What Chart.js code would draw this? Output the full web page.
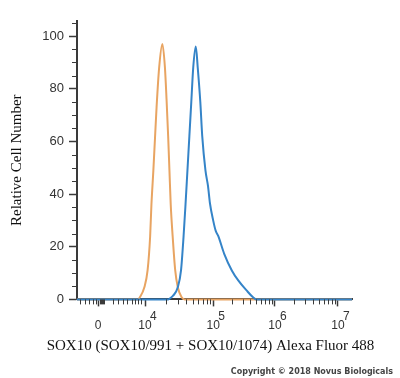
<!DOCTYPE html>
<html>
<head>
<meta charset="utf-8">
<script src="https://cdn.jsdelivr.net/npm/chart.js@4/dist/chart.umd.min.js"></script>
<style>
html, body { margin: 0; padding: 0; background: #fff; }
</style>
</head>
<body>
<canvas id="histo" width="400" height="378"></canvas>
<script>
// x = position on the biexponential axis (in decades), y = relative cell number
var isoX  = [2.94, 3.89, 3.92, 3.99, 4.04, 4.08, 4.10, 4.13, 4.155, 4.18, 4.22, 4.27, 4.31, 4.335, 4.36, 4.38, 4.40, 4.43, 4.47, 4.51, 4.57, 4.62, 7.22];
var isoY  = [0, 0, 0.8, 4.6, 11, 24, 36, 49, 61, 73, 88, 97, 88, 76, 62, 49, 36, 24, 11, 4.6, 0.8, 0, 0];
var soxX  = [2.94, 4.36, 4.40, 4.44, 4.51, 4.56, 4.60, 4.63, 4.66, 4.69, 4.72, 4.75, 4.79, 4.82, 4.86, 4.89, 4.94, 4.98, 5.01, 5.06, 5.10, 5.14, 5.23, 5.35, 5.45, 5.58, 5.68, 5.73, 7.22];
var soxY  = [0, 0, 0.6, 1.5, 4.6, 11, 24, 36, 49, 62, 75, 88, 96, 88, 75, 62, 49, 43, 36.5, 30, 26, 24, 17.4, 11, 7.2, 3.4, 0.8, 0, 0];

// axis ticks
var decadePos = [3.27, 4.0, 5.06, 6.02, 7.0];
var decadeExp = ['', '4', '5', '6', '7'];
var lowMinor  = [2.99, 3.07, 3.13, 3.19, 3.24, 3.30, 3.315, 3.33, 3.345, 3.36, 3.50, 3.58, 3.66, 3.72, 3.80, 3.84, 3.89, 3.94];
var yMajor    = [0, 20, 40, 60, 80, 100];
var yMinor    = [5, 10, 15, 25, 30, 35, 45, 50, 55, 65, 70, 75, 85, 90, 95, 105];

var xTitle = 'SOX10 (SOX10/991 + SOX10/1074) Alexa Fluor 488';

var xMinor = lowMinor.slice();
for (var k = 1; k < decadePos.length - 1; k++) {
  for (var m = 2; m <= 9; m++) {
    xMinor.push(decadePos[k] + Math.log10(m) * (decadePos[k + 1] - decadePos[k]));
  }
}

function toPoints(xs, ys) {
  return xs.map(function (x, i) { return { x: x, y: ys[i] }; });
}

var axisColor = '#3a3a3a';

// short minor ticks + the x title (the scale title gets squeezed to the plot width)
var extras = {
  id: 'extras',
  afterDraw: function (chart) {
    var ctx = chart.ctx, a = chart.chartArea;
    var sx = chart.scales.x, sy = chart.scales.y;
    ctx.save();
    ctx.strokeStyle = axisColor;
    ctx.lineWidth = 1;
    ctx.beginPath();
    xMinor.forEach(function (v) {
      var p = Math.round(sx.getPixelForValue(v)) + 0.5;
      ctx.moveTo(p, a.bottom);
      ctx.lineTo(p, a.bottom + 5);
    });
    yMinor.forEach(function (v) {
      var p = Math.round(sy.getPixelForValue(v)) + 0.5;
      ctx.moveTo(a.left, p);
      ctx.lineTo(a.left - 5, p);
    });
    ctx.stroke();

    ctx.fillStyle = '#111';
    ctx.font = '15px "Liberation Serif"';
    ctx.textAlign = 'center';
    ctx.textBaseline = 'middle';
    ctx.fillText(xTitle, (a.left + a.right) / 2 - 4, sx.bottom - 21);
    ctx.restore();
  }
};

new Chart(document.getElementById('histo'), {
  type: 'line',
  data: {
    datasets: [{
      label: 'SOX10',
      data: toPoints(soxX, soxY),
      borderColor: '#3584c8',
      borderWidth: 2,
      pointRadius: 0,
      cubicInterpolationMode: 'monotone',
      clip: false
    }, {
      label: 'Isotype',
      data: toPoints(isoX, isoY),
      borderColor: '#e8a462',
      borderWidth: 2,
      pointRadius: 0,
      cubicInterpolationMode: 'monotone',
      clip: false
    }]
  },
  options: {
    responsive: false,
    animation: false,
    devicePixelRatio: 1,
    layout: { padding: { left: 0, right: 7, top: 21, bottom: 1 } },
    plugins: {
      legend: { display: false },
      tooltip: { enabled: false },
      subtitle: {
        display: true,
        text: 'Copyright \u00a9 2018 Novus Biologicals',
        position: 'bottom',
        align: 'end',
        color: '#444',
        font: { family: 'DejaVu Sans', size: 8, weight: 'bold' },
        padding: { top: 0, bottom: 0 }
      }
    },
    scales: {
      x: {
        type: 'linear',
        min: 2.9425,
        max: 7.219,
        afterBuildTicks: function (s) {
          s.ticks = decadePos.map(function (v) { return { value: v }; });
        },
        afterFit: function (s) { s.height = 68; },
        ticks: {
          autoSkip: false,
          maxRotation: 0,
          color: '#333',
          padding: 5,
          font: { family: 'Liberation Sans', size: 12, lineHeight: 0.8 },
          callback: function (v, i) {
            if (decadeExp[i] === '') return ['', '0'];
            return ['\u00a0\u00a0\u00a0\u00a0\u00a0' + decadeExp[i], '10'];
          }
        },
        grid: { drawOnChartArea: false, tickLength: 7, tickColor: axisColor, tickWidth: 1.5 },
        border: { color: axisColor, width: 2 }
      },
      y: {
        min: 0,
        max: 105.7,
        afterBuildTicks: function (s) {
          s.ticks = yMajor.map(function (v) { return { value: v }; });
        },
        afterFit: function (s) { s.width = 77; },
        ticks: { color: '#333', padding: 5, font: { family: 'Liberation Sans', size: 13 } },
        grid: { drawOnChartArea: false, tickLength: 8, tickColor: axisColor, tickWidth: 1.5 },
        border: { color: axisColor, width: 2 },
        title: {
          display: true,
          text: 'Relative Cell Number',
          color: '#111',
          font: { family: 'Liberation Serif', size: 15 },
          padding: { top: 8, bottom: 0 }
        }
      },
      // empty right-hand box that keeps the plot clear of the right margin
      spacer: {
        position: 'right',
        display: true,
        afterFit: function (s) { s.width = 41; },
        ticks: { display: false },
        grid: { display: false },
        border: { display: false }
      }
    }
  },
  plugins: [extras]
});
</script>
</body>
</html>
